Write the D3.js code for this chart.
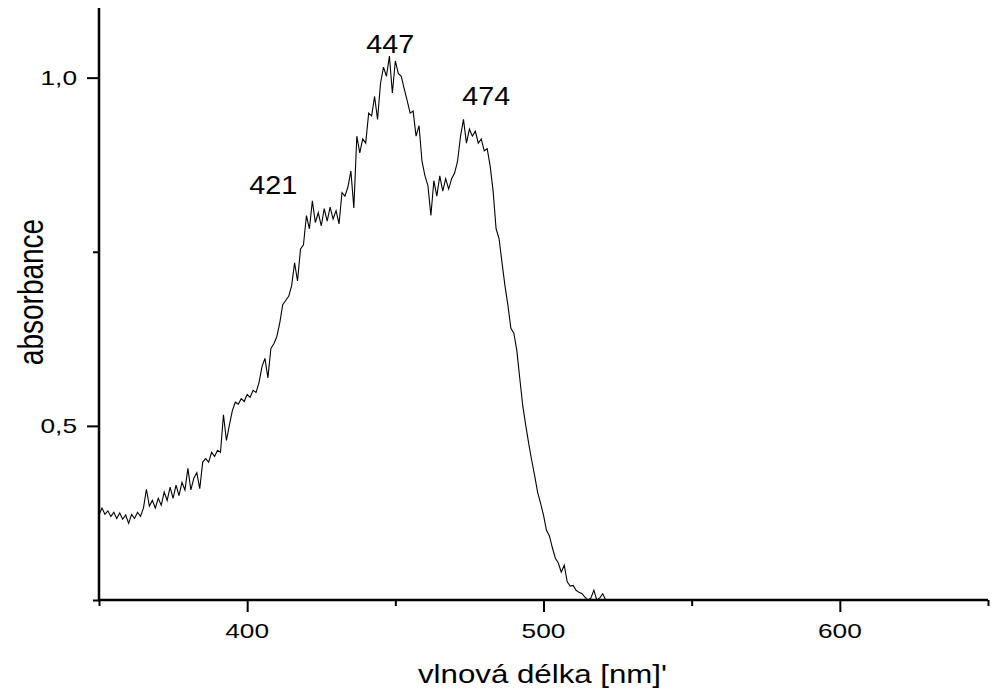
<!DOCTYPE html>
<html>
<head>
<meta charset="utf-8">
<script src="https://cdn.jsdelivr.net/npm/d3@7"></script>
<style>
  html, body { margin: 0; padding: 0; background: #fff; }
  svg text { font-family: "Liberation Sans", Arial, sans-serif; fill: #000; }
</style>
</head>
<body>
<svg id="chart" width="998" height="690"></svg>
<script>
// ---- data ----
const wavelengths = d3.range(350, 522, 1);
const absorbance = [
  0.372, 0.382, 0.373, 0.378, 0.370, 0.376, 0.367, 0.375, 0.366, 0.372, // 350-359
  0.360, 0.373, 0.367, 0.376, 0.370, 0.382, 0.409, 0.385, 0.393, 0.382, // 360-369
  0.396, 0.386, 0.405, 0.393, 0.412, 0.396, 0.415, 0.400, 0.419, 0.408, // 370-379
  0.439, 0.408, 0.425, 0.433, 0.410, 0.448, 0.453, 0.448, 0.462, 0.456, // 380-389
  0.465, 0.462, 0.516, 0.479, 0.501, 0.522, 0.534, 0.531, 0.539, 0.535, // 390-399
  0.545, 0.541, 0.551, 0.548, 0.562, 0.585, 0.597, 0.569, 0.611, 0.618, // 400-409
  0.628, 0.648, 0.674, 0.680, 0.686, 0.701, 0.734, 0.708, 0.754, 0.760, // 410-419
  0.802, 0.783, 0.823, 0.792, 0.806, 0.787, 0.812, 0.794, 0.814, 0.797, // 420-429
  0.809, 0.790, 0.835, 0.830, 0.843, 0.866, 0.813, 0.916, 0.892, 0.912, // 430-439
  0.906, 0.949, 0.945, 0.973, 0.940, 0.992, 1.015, 1.002, 1.031, 0.978, // 440-449
  1.024, 1.006, 1.002, 0.984, 0.967, 0.949, 0.952, 0.916, 0.931, 0.880, // 450-459
  0.859, 0.845, 0.802, 0.852, 0.830, 0.859, 0.837, 0.855, 0.840, 0.855, // 460-469
  0.863, 0.880, 0.916, 0.940, 0.906, 0.926, 0.916, 0.923, 0.906, 0.912, // 470-479
  0.895, 0.898, 0.873, 0.837, 0.783, 0.769, 0.734, 0.701, 0.673, 0.640, // 480-489
  0.633, 0.608, 0.568, 0.529, 0.501, 0.475, 0.451, 0.429, 0.405, 0.389, // 490-499
  0.372, 0.350, 0.342, 0.325, 0.310, 0.303, 0.290, 0.300, 0.276, 0.270, // 500-509
  0.271, 0.264, 0.261, 0.259, 0.254, 0.250, 0.253, 0.264, 0.250, 0.253, // 510-519
  0.259, 0.250                                                          // 520-521
];
const xMajorTicks = [400, 500, 600];
const xMinorTicks = [350, 450, 550, 650];
const yMajorTicks = [0.5, 1.0];
const yMinorTicks = [0.25, 0.75];
const yTickLabels = ["0,5", "1,0"];
const peakLabels = ["421", "447", "474"];
const peakWl = [408.8, 448.3, 480.7];
const peakAbs = [0.833, 1.035, 0.961];
const xTitle = "vlnová délka [nm]'";
const yTitle = "absorbance";

// ---- layout ----
const svg = d3.select("#chart");
const mLeft = 99, mRight = 988, mTop = 8, mBottom = 600;
const x = d3.scaleLinear().domain([350, 650]).range([mLeft, mRight]);
const y = d3.scaleLinear().domain([0.25, 1.1]).range([mBottom, mTop]);
const stretch = 1.25;

const data = wavelengths.map((w, i) => ({ w, a: absorbance[i] }));

svg.append("clipPath").attr("id", "clip")
  .append("rect").attr("x", mLeft).attr("y", 0).attr("width", mRight - mLeft).attr("height", mBottom);

svg.append("path")
  .datum(data)
  .attr("clip-path", "url(#clip)")
  .attr("fill", "none")
  .attr("stroke", "#000")
  .attr("stroke-width", 1.1)
  .attr("d", d3.line().x(d => x(d.w)).y(d => y(d.a)));

function styleTicks(g) {
  g.select(".domain").remove();
  g.selectAll(".tick line").attr("stroke", "#000").attr("stroke-width", 2);
}

// x axis ticks
svg.append("g").attr("transform", `translate(0,${mBottom})`)
  .call(d3.axisBottom(x).tickValues(xMajorTicks).tickSize(12).tickFormat(() => ""))
  .call(styleTicks);
svg.append("g").attr("transform", `translate(0,${mBottom})`)
  .call(d3.axisBottom(x).tickValues(xMinorTicks).tickSize(6).tickFormat(() => ""))
  .call(styleTicks);

// y axis ticks
svg.append("g").attr("transform", `translate(${mLeft},0)`)
  .call(d3.axisLeft(y).tickValues(yMajorTicks).tickSize(12).tickFormat(() => ""))
  .call(styleTicks);
svg.append("g").attr("transform", `translate(${mLeft},0)`)
  .call(d3.axisLeft(y).tickValues(yMinorTicks).tickSize(6).tickFormat(() => ""))
  .call(styleTicks);

// axis lines
svg.append("line").attr("x1", mLeft).attr("x2", mLeft).attr("y1", mTop).attr("y2", mBottom + 1)
  .attr("stroke", "#000").attr("stroke-width", 2.5);
svg.append("line").attr("x1", mLeft - 1).attr("x2", mRight).attr("y1", mBottom).attr("y2", mBottom)
  .attr("stroke", "#000").attr("stroke-width", 2.5);

// tick labels
xMajorTicks.forEach(v => {
  svg.append("text")
    .attr("transform", `translate(${x(v)},${mBottom + 38}) scale(${stretch},1)`)
    .attr("text-anchor", "middle")
    .attr("font-size", 21)
    .text(String(v));
});
yMajorTicks.forEach((v, i) => {
  svg.append("text")
    .attr("transform", `translate(${mLeft - 22},${y(v) + 7.5}) scale(${stretch},1)`)
    .attr("text-anchor", "end")
    .attr("font-size", 21)
    .text(yTickLabels[i]);
});

// axis titles
svg.append("text")
  .attr("transform", `translate(${(mLeft + mRight) / 2 - 1},683) scale(${stretch},1)`)
  .attr("text-anchor", "middle")
  .attr("font-size", 25)
  .text(xTitle);
svg.append("text")
  .attr("transform", `translate(43,292) rotate(-90) scale(1,${stretch})`)
  .attr("text-anchor", "middle")
  .attr("font-size", 28)
  .text(yTitle);

// peak labels
peakLabels.forEach((t, i) => {
  svg.append("text")
    .attr("transform", `translate(${x(peakWl[i])},${y(peakAbs[i])}) scale(1.15,1)`)
    .attr("text-anchor", "middle")
    .attr("font-size", 25)
    .text(t);
});
</script>
</body>
</html>
